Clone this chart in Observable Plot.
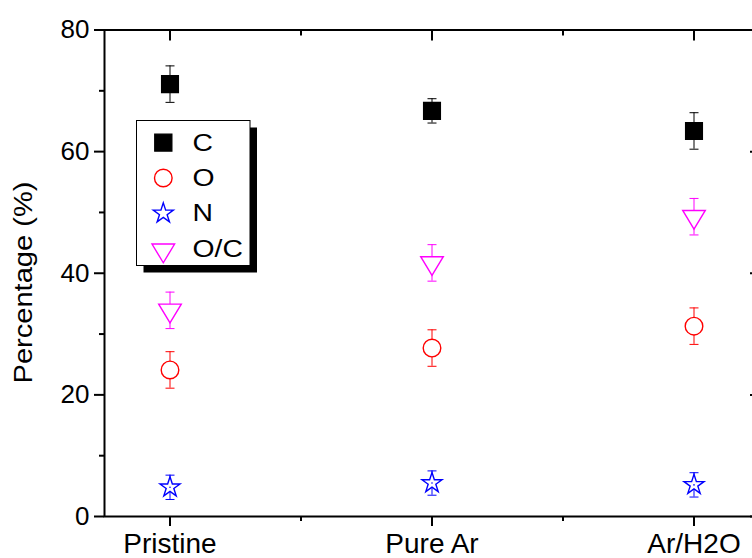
<!DOCTYPE html>
<html><head><meta charset="utf-8">
<script src="https://cdn.jsdelivr.net/npm/d3@7"></script>
<script src="https://cdn.jsdelivr.net/npm/@observablehq/plot@0.6"></script>
<style>
html,body{margin:0;padding:0;overflow:hidden;background:#fff;width:752px;height:558px}
#wrap{position:relative;width:752px;height:558px;overflow:hidden}
#wrap svg{max-width:none !important;height:auto}
#wrap svg.overlay{position:absolute;left:0;top:0;pointer-events:none}
</style></head><body><div id="wrap"></div>
<script>
const categories = ["Pristine", "Pure Ar", "Ar/H2O"];
const C = [71.1, 66.7, 63.4];
const C_err = [3.0, 2.0, 3.0];
const O = [24.1, 27.7, 31.3];
const O_err = [3.0, 3.0, 3.0];
const N = [4.8, 5.5, 5.2];
const N_err = [2.0, 2.0, 2.0];
const OC = [33.9, 41.7, 49.3];
const OC_err = [3.0, 3.0, 3.0];
const yTicks = [0, 20, 40, 60, 80];
const yMinorTicks = [10, 30, 50, 70];
const xTicks = [1, 2, 3];
const xMinorTicks = [1.5, 2.5];
const yLabel = "Percentage (%)";
const colors = {"C": "#000000", "O": "#ff0000", "N": "#0000ff", "O/C": "#ff00ff"};

const triangleDown = {draw(ctx) {
  const w = 11.3, h = 18.7;
  ctx.moveTo(-w, -h / 3); ctx.lineTo(w, -h / 3); ctx.lineTo(0, 2 * h / 3); ctx.closePath();
}};
const cap = {draw(ctx) { ctx.moveTo(-4.5, 0); ctx.lineTo(4.5, 0); }};

const seriesDefs = [
  {name: "C", values: C, err: C_err, symbol: "square", r: 9.42, fill: "#000000", d3sym: d3.symbolSquare, size: 17 * 17},
  {name: "O", values: O, err: O_err, symbol: "circle", r: 8.8, fill: "#ffffff", d3sym: d3.symbolCircle, size: Math.PI * 8.8 * 8.8},
  {name: "N", values: N, err: N_err, symbol: "star", r: 6.3, fill: "#ffffff", d3sym: d3.symbolStar, size: Math.PI * 6.3 * 6.3},
  {name: "O/C", values: OC, err: OC_err, symbol: triangleDown, r: 9, fill: "#ffffff", d3sym: triangleDown, size: 100}
];
const rows = seriesDefs.flatMap(s => s.values.map((v, i) => ({
  series: s.name, idx: i + 1, value: v, lo: v - s.err[i], hi: v + s.err[i]
})));

const font = "'Liberation Sans', Arial, sans-serif";
const blank = () => "";

const marks = [
  Plot.frame({stroke: "#000", strokeWidth: 2}),
  Plot.axisY({ticks: yTicks, tickSize: 10, tickPadding: 5, fontSize: 26, label: null, strokeWidth: 2}),
  Plot.axisY({ticks: yMinorTicks, tickSize: 5, tickFormat: blank, label: null, strokeWidth: 2}),
  Plot.axisY({anchor: "right", ticks: yTicks, tickSize: -10, tickFormat: blank, label: null, strokeWidth: 2}),
  Plot.axisY({anchor: "right", ticks: yMinorTicks, tickSize: -5, tickFormat: blank, label: null, strokeWidth: 2}),
  Plot.axisX({ticks: xTicks, tickSize: 10, tickPadding: 7, tickFormat: d => categories[d - 1], fontSize: 28, label: null, strokeWidth: 2}),
  Plot.axisX({ticks: xMinorTicks, tickSize: 5, tickFormat: blank, label: null, strokeWidth: 2}),
  Plot.axisX({anchor: "top", ticks: xTicks, tickSize: -10, tickFormat: blank, label: null, strokeWidth: 2}),
  Plot.axisX({anchor: "top", ticks: xMinorTicks, tickSize: -5, tickFormat: blank, label: null, strokeWidth: 2}),
  Plot.ruleX(rows, {x: "idx", y1: "lo", y2: "hi", stroke: d => colors[d.series], strokeWidth: 1}),
  Plot.dot(rows, {x: "idx", y: "lo", symbol: cap, stroke: d => colors[d.series], strokeWidth: 1}),
  Plot.dot(rows, {x: "idx", y: "hi", symbol: cap, stroke: d => colors[d.series], strokeWidth: 1}),
  ...seriesDefs.map(s => Plot.dot(rows.filter(d => d.series === s.name), {
    x: "idx", y: "value", symbol: s.symbol, r: s.r,
    stroke: colors[s.name], fill: s.fill, strokeWidth: 1.4
  })),
  Plot.dot(rows.filter(d => d.series === "N"), {x: "idx", y: "value", r: 0.8, fill: colors["N"]})
];

const plot = Plot.plot({
  width: 760, height: 558,
  marginLeft: 104, marginRight: 1, marginTop: 29.5, marginBottom: 42,
  x: {domain: [0.75, 3.25]},
  y: {domain: [0, 80]},
  color: {type: "identity"},
  style: {fontFamily: font, color: "#000", background: "#fff", maxWidth: "none"},
  marks
});
const wrap = document.getElementById("wrap");
wrap.appendChild(plot);

// overlay: y label and in-plot legend
const ov = d3.select(wrap).append("svg").attr("class", "overlay")
  .attr("width", 752).attr("height", 558).style("font-family", font);
ov.append("text")
  .attr("transform", "translate(31.5,282.5) rotate(-90)")
  .attr("text-anchor", "middle").attr("font-size", 26)
  .attr("textLength", 202).attr("lengthAdjust", "spacingAndGlyphs")
  .attr("fill", "#000").text(yLabel);

const lg = ov.append("g");
lg.append("rect").attr("x", 143.5).attr("y", 127.5).attr("width", 113.5).attr("height", 145).attr("fill", "#000");
lg.append("rect").attr("x", 136.5).attr("y", 120.5).attr("width", 113.5).attr("height", 145)
  .attr("fill", "#fff").attr("stroke", "#000").attr("stroke-width", 1);
seriesDefs.forEach((s, i) => {
  const cy = 142.6 + i * 35.4;
  lg.append("path").attr("transform", `translate(163.3,${cy + (i === 3 ? 1.5 : 0)})`)
    .attr("d", d3.symbol(s.d3sym, s.size)())
    .attr("fill", s.fill).attr("stroke", colors[s.name]).attr("stroke-width", 1.4);
  lg.append("text").attr("transform", `translate(192.5,${cy + 8}) scale(1.18,1)`)
    .attr("font-size", 24).attr("fill", "#000").text(s.name);
});
</script></body></html>
